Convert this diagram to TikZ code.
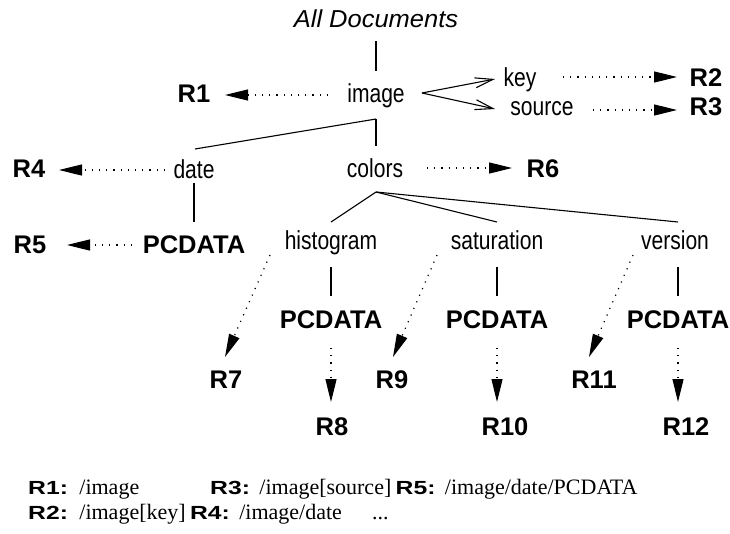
\documentclass[tikz,border=0pt]{standalone}
\usepackage{fontspec}
\setmainfont{Liberation Serif}
\newfontfamily\nrmsf[FakeStretch=0.81]{Liberation Sans}
\newfontfamily\plainsf{Liberation Sans}
\newfontfamily\titlesf[FakeStretch=1.04]{Liberation Sans}
\newfontfamily\widesf[FakeStretch=1.3]{Liberation Sans}
\usetikzlibrary{arrows.meta}
\begin{document}
\begin{tikzpicture}[x=1pt,y=-1pt,
  nt/.style={font=\nrmsf\fontsize{26}{28}\selectfont, inner sep=0pt, anchor=base},
  bt/.style={font=\plainsf\bfseries\fontsize{25.5}{28}\selectfont, inner sep=0pt, anchor=base},
  ttl/.style={font=\titlesf\itshape\fontsize{24.5}{28}\selectfont, inner sep=0pt, anchor=base},
  lgb/.style={font=\widesf\bfseries\fontsize{19}{20}\selectfont, inner sep=0pt, anchor=base west},
  lgt/.style={font=\fontsize{22}{24}\selectfont, inner sep=0pt, anchor=base west},
  edge/.style={line width=1.1pt},
  dotline/.style={line width=1.2pt, dash pattern=on 1.2pt off 6pt},
  refarrow/.style={dotline, -{Triangle[length=23pt,width=11pt]}},
  openarrow/.style={edge, -{Straight Barb[length=18pt,width=10pt,line width=1.1pt]}}
]
\useasboundingbox (0,0) rectangle (730,533);

% nodes
\node[ttl] (alldoc) at (376,27) {All Documents};
\node[nt] (image) at (376,102) {image};
\node[bt] (R1) at (194,102) {R1};
\node[nt] (key) at (520,86) {key};
\node[nt] (source) at (542,115) {source};
\node[bt] (R2) at (706,86) {R2};
\node[bt] (R3) at (706,115) {R3};
\node[nt] (date) at (194,178) {date};
\node[nt] (colors) at (375,177) {colors};
\node[bt] (R4) at (29,177) {R4};
\node[bt] (R6) at (543,177) {R6};
\node[bt] (pc0) at (194,253) {PCDATA};
\node[bt] (R5) at (30,253) {R5};
\node[nt] (hist) at (331,249) {histogram};
\node[nt] (sat) at (497,249) {saturation};
\node[nt] (ver) at (675,249) {version};
\node[bt] (pc1) at (331,328) {PCDATA};
\node[bt] (pc2) at (497,328) {PCDATA};
\node[bt] (pc3) at (678,328) {PCDATA};
\node[bt] (R7) at (226,388) {R7};
\node[bt] (R9) at (392,388) {R9};
\node[bt] (R11) at (594,388) {R11};
\node[bt] (R8) at (332,435) {R8};
\node[bt] (R10) at (505,435) {R10};
\node[bt] (R12) at (686,435) {R12};

% solid tree edges
\draw[edge] ([yshift=-14pt]alldoc.base) -- ([yshift=31pt]image.base);
\draw[edge] ([yshift=-17pt]image.base) -- ([xshift=1pt,yshift=29pt]date.base);
\draw[edge] ([yshift=-17pt]image.base) -- ([xshift=1pt,yshift=31pt]colors.base);
\draw[edge] ([yshift=-5pt]date.base) -- ([yshift=31pt]pc0.base);
\draw[edge] ([xshift=1pt,yshift=-15pt]colors.base) -- ([yshift=27pt]hist.base);
\draw[edge] ([xshift=1pt,yshift=-15pt]colors.base) -- ([yshift=27pt]sat.base);
\draw[edge] ([xshift=1pt,yshift=-15pt]colors.base) -- ([xshift=3pt,yshift=27pt]ver.base);
\draw[edge] ([yshift=-18pt]hist.base) -- ([yshift=32pt]pc1.base);
\draw[edge] ([yshift=-18pt]sat.base) -- ([yshift=32pt]pc2.base);
\draw[edge] ([xshift=3pt,yshift=-18pt]ver.base) -- ([yshift=32pt]pc3.base);

% open arrows to attributes
\draw[openarrow] ([xshift=46pt,yshift=9pt]image.base) -- ([xshift=-25pt,yshift=7pt]key.base);
\draw[openarrow] ([xshift=46pt,yshift=9pt]image.base) -- ([xshift=-47pt,yshift=6pt]source.base);

% dotted reference arrows
\draw[refarrow] ([xshift=-48pt,yshift=7pt]image.base) -- ([xshift=31pt,yshift=7pt]R1.base);
\draw[refarrow] ([xshift=43pt,yshift=9pt]key.base) -- ([xshift=-29pt,yshift=9pt]R2.base);
\draw[refarrow] ([xshift=51pt,yshift=5pt]source.base) -- ([xshift=-29pt,yshift=5pt]R3.base);
\draw[refarrow] ([xshift=-29pt,yshift=8pt]date.base) -- ([xshift=30pt,yshift=7pt]R4.base);
\draw[refarrow] ([xshift=52pt,yshift=9pt]colors.base) -- ([xshift=-31pt,yshift=9pt]R6.base);
\draw[refarrow] ([xshift=-62pt,yshift=8pt]pc0.base) -- ([xshift=37pt,yshift=8pt]R5.base);
\draw[refarrow] ([xshift=-61pt,yshift=-6pt]hist.base) -- ([xshift=-1pt,yshift=31pt]R7.base);
\draw[refarrow] ([xshift=-60pt,yshift=-6pt]sat.base) -- ([xshift=1pt,yshift=31pt]R9.base);
\draw[refarrow] ([xshift=-42pt,yshift=-6pt]ver.base) -- ([xshift=-5pt,yshift=31pt]R11.base);
\draw[refarrow] ([yshift=-20pt]pc1.base) -- ([xshift=-1pt,yshift=33pt]R8.base);
\draw[refarrow] ([yshift=-20pt]pc2.base) -- ([xshift=-8pt,yshift=33pt]R10.base);
\draw[refarrow] ([yshift=-20pt]pc3.base) -- ([xshift=-8pt,yshift=33pt]R12.base);

% legend
\node[lgb] (l1) at (28,494) {R1:};
\node[lgt] (p1) at ([xshift=11pt]l1.base east) {/image};
\node[lgb] (l3) at (210,494) {R3:};
\node[lgt] (p3) at ([xshift=9pt]l3.base east) {/image[source]};
\node[lgb] (l5) at ([xshift=4pt]p3.base east) {R5:};
\node[lgt] (p5) at ([xshift=9pt]l5.base east) {/image/date/PCDATA};
\node[lgb] (l2) at (28,519) {R2:};
\node[lgt] (p2) at ([xshift=11pt]l2.base east) {/image[key]};
\node[lgb] (l4) at ([xshift=4pt]p2.base east) {R4:};
\node[lgt] (p4) at ([xshift=9pt]l4.base east) {/image/date};
\node[lgt] (dots) at (372,519) {...};
\end{tikzpicture}
\end{document}
